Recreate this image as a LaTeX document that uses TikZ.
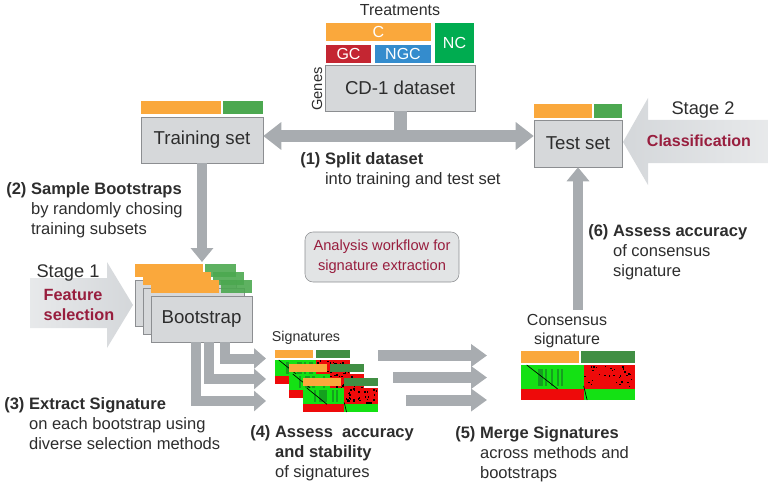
\documentclass[tikz,border=0pt]{standalone}
\usepackage{fontspec}
\setmainfont{Liberation Sans}
\usetikzlibrary{arrows.meta,calc}

\definecolor{boxfill}{RGB}{214,216,218}
\definecolor{boxline}{RGB}{140,142,145}
\definecolor{flowgray}{RGB}{168,172,176}
\definecolor{barorange}{RGB}{250,168,60}
\definecolor{bargreen}{RGB}{76,168,80}
\definecolor{ncgreen}{RGB}{0,172,80}
\definecolor{gcred}{RGB}{196,38,50}
\definecolor{ngcblue}{RGB}{52,140,205}
\definecolor{darkred}{RGB}{152,30,62}
\definecolor{txtgray}{RGB}{45,45,45}
\definecolor{hmred}{RGB}{238,10,10}
\definecolor{hmgreen}{RGB}{20,225,20}
\definecolor{hmdkgreen}{RGB}{20,160,30}
\definecolor{stagefill}{RGB}{212,215,218}

\tikzset{
  setbox/.style={draw=boxline, fill=boxfill, inner sep=0pt, text=txtgray,
    font=\fontsize{14}{16}\selectfont},
  groupbar/.style={draw=white, line width=1pt, inner sep=0pt, text=white,
    font=\fontsize{12}{14}\selectfont},
  steptext/.style={anchor=base west, inner sep=0pt, text=txtgray,
    font=\fontsize{12.4}{15}\selectfont},
  flowline/.style={draw=flowgray, line width=9.75pt},
  flowboth/.style={draw=flowgray, line width=9pt,
    {Triangle[length=13.5pt,width=20pt]}-{Triangle[length=13.5pt,width=20pt]}},
  flow/.style={draw=flowgray, line width=8pt, -{Triangle[length=10.5pt,width=16.5pt]}},
  flowsmall/.style={draw=flowgray, line width=7.5pt, -{Triangle[length=9pt,width=15pt]}},
  flowmerge/.style={draw=flowgray, line width=8.25pt, -{Triangle[length=12pt,width=16.5pt]}}
}

\newcommand{\steplabel}[3]{\begin{tabular}[t]{@{}l@{\ }l@{}}\textbf{#1}&\textbf{#2}\\#3\end{tabular}}
% heat map: x, y, width, height
\newcommand{\heatmap}[4]{%
  \fill[hmgreen] (#1,#2) rectangle ({#1+0.55*#3},{#2+0.68*#4});
  \fill[hmred] ({#1+0.55*#3},#2) rectangle ({#1+#3},{#2+0.68*#4});
  \fill[hmred] (#1,{#2+0.68*#4}) rectangle ({#1+0.55*#3},{#2+#4});
  \fill[hmgreen] ({#1+0.55*#3},{#2+0.68*#4}) rectangle ({#1+#3},{#2+#4});
  \foreach \k in {1,...,8}
    \fill[hmdkgreen] ({#1+0.1*#3+rnd*0.4*#3},{#2+0.1*#4}) rectangle ++(2,{0.5*#4});
  \foreach \k in {1,...,30}
    \fill[black] ({#1+0.55*#3+rnd*0.43*#3},{#2+rnd*0.62*#4}) rectangle ++(1.5,1.5);
  \draw[black, line width=0.5pt] ({#1+0.05*#3},#2) -- ({#1+0.32*#3},{#2+0.68*#4});
  \draw[black, line width=0.5pt] ({#1+0.55*#3},{#2+0.6*#4}) -- ({#1+0.58*#3},{#2+#4});
}

\begin{document}
\begin{tikzpicture}[x=0.75pt,y=-0.75pt]
  \useasboundingbox (0,0) rectangle (768,485);
  \pgfmathsetseed{7}

  % stage arrows
  \shade[left color=stagefill!55, right color=stagefill]
    (30,278) -- (107,278) -- (107,262) -- (133,305) -- (107,348) -- (107,328) -- (30,328) -- cycle;
  \shade[left color=stagefill, right color=stagefill!55]
    (768,120) -- (648,120) -- (648,98) -- (623,142) -- (648,185) -- (648,163) -- (768,163) -- cycle;
  \node[font=\fontsize{13.7}{16}\selectfont, text=txtgray] (stage1) at (68,273) {Stage 1};
  \node[anchor=west, align=left, text=darkred, font=\bfseries\fontsize{12.2}{15}\selectfont]
    (featsel) at (39,305) {Feature\\selection};
  \node[font=\fontsize{13.7}{16}\selectfont, text=txtgray] (stage2) at (703,110) {Stage 2};
  \node[text=darkred, font=\bfseries\fontsize{12}{14}\selectfont] (classif) at (699,141) {Classification};

  % dataset
  \node[font=\fontsize{12}{14}\selectfont, text=txtgray] (treat) at (400,10) {Treatments};
  \node[setbox, minimum width=112.5pt, minimum height=34.5pt] (data) at (400,88) {CD-1 dataset};
  \node[groupbar, fill=barorange, minimum width=80.25pt, minimum height=15pt] (c) at (378.5,32) {C};
  \node[groupbar, fill=gcred, minimum width=35.25pt, minimum height=15pt] (gc) at (348.5,54) {GC};
  \node[groupbar, fill=ngcblue, minimum width=43.5pt, minimum height=15pt] (ngc) at (403,54) {NGC};
  \node[groupbar, fill=ncgreen, minimum width=30.75pt, minimum height=31.5pt] (nc) at (454.5,43) {NC};
  \node[rotate=90, text=txtgray, font=\fontsize{11}{13}\selectfont] (genes) at (317,89) {Genes};

  % training and test set
  \fill[barorange] (141,101) rectangle (221,114);
  \fill[bargreen] (223,101) rectangle (263,114);
  \node[setbox, minimum width=91.5pt, minimum height=34.5pt] (train) at (202,140) {Training set};
  \fill[barorange] (534,104) rectangle (592,118);
  \fill[bargreen] (594,104) rectangle (622,118);
  \node[setbox, minimum width=66pt, minimum height=35.25pt] (test) at (578,143.5) {Test set};

  \coordinate (split) at (400,136);
  \draw[flowline] (data.south) -- (split);
  \draw[flowboth] (train.east |- split) -- (test.west |- split);
  \node[steptext] (step1) at (300,165) {\steplabel{(1)}{Split dataset}{& into training and test set}};

  % bootstraps
  \coordinate (stacktop) at (202,262);
  \draw[flow] (train.south) -- (stacktop);
  \node[steptext] (step2) at (6,194) {\steplabel{(2)}{Sample Bootstraps}{& by randomly chosing\\ & training subsets}};
  \foreach \i in {0,1,2} {
    \pgfmathsetmacro\dd{8*\i}
    \fill[barorange] (135+\dd,264+\dd) rectangle (203+\dd,277+\dd);
    \fill[bargreen, opacity=0.9] (205+\dd,264+\dd) rectangle (236+\dd,277+\dd);
    \node[setbox, minimum width=75.75pt, minimum height=34.5pt] (boot\i) at (185.5+\dd,303+\dd) {};
  }
  \node[text=txtgray, font=\fontsize{14}{16}\selectfont] (bootlbl) at (boot2) {Bootstrap};

  \node[draw=boxline, fill=boxfill!70, rounded corners=6pt, minimum width=115.5pt, minimum height=37.5pt,
    align=center, text=darkred, font=\fontsize{11}{15}\selectfont] (workflow) at (382,257)
    {Analysis workflow for\\signature extraction};

  % signatures
  \coordinate (s1) at (266,358.5);
  \coordinate (s2) at (266,379);
  \coordinate (s3) at (266,401);
  \draw[flowsmall] ($(boot2.south)+(23,0)$) |- (s1);
  \draw[flowsmall] ($(boot2.south)+(7.5,0)$) |- (s2);
  \draw[flowsmall] ($(boot2.south)+(-6,0)$) |- (s3);
  \node[steptext] (step3) at (4,409) {\steplabel{(3)}{Extract Signature}{& on each bootstrap using\\ & diverse selection methods}};

  \node[text=txtgray, font=\fontsize{10.7}{13}\selectfont] (siglbl) at (306,338) {Signatures};
  \foreach \i in {0,1,2} {
    \pgfmathsetmacro\dd{14*\i}
    \fill[barorange] (275+\dd,350+\dd) rectangle (313+\dd,358+\dd);
    \fill[bargreen!85!black] (316+\dd,350+\dd) rectangle (350+\dd,358+\dd);
    \heatmap{275+\dd}{360+\dd}{75}{24}
  }
  \node[steptext] (step4) at (250,437) {\steplabel{(4)}{Assess\ \ accuracy}{& \textbf{and stability}\\ & of signatures}};

  % merging
  \coordinate (m1) at (378,355.5);
  \coordinate (m2) at (393,377.5);
  \coordinate (m3) at (406,400);
  \coordinate (n1) at (487,355.5);
  \coordinate (n2) at (487,377.5);
  \coordinate (n3) at (487,400);
  \draw[flowmerge] (m1) -- (n1);
  \draw[flowmerge] (m2) -- (n2);
  \draw[flowmerge] (m3) -- (n3);
  \node[steptext] (step5) at (455,438) {\steplabel{(5)}{Merge Signatures}{& across methods and\\ & bootstraps}};

  % consensus
  \node[align=center, text=txtgray, font=\fontsize{12}{14.25}\selectfont] (conslbl) at (567,331) {Consensus\\signature};
  \fill[barorange] (521,351) rectangle (579,363);
  \fill[bargreen!85!black] (581,351) rectangle (635,363);
  \heatmap{521}{365}{114}{35}
  \coordinate (consup) at (578,310);
  \draw[flow] (consup) -- (test.south);
  \node[steptext] (step6) at (588,236) {\steplabel{(6)}{Assess accuracy}{& of consensus\\ & signature}};
\end{tikzpicture}
\end{document}
